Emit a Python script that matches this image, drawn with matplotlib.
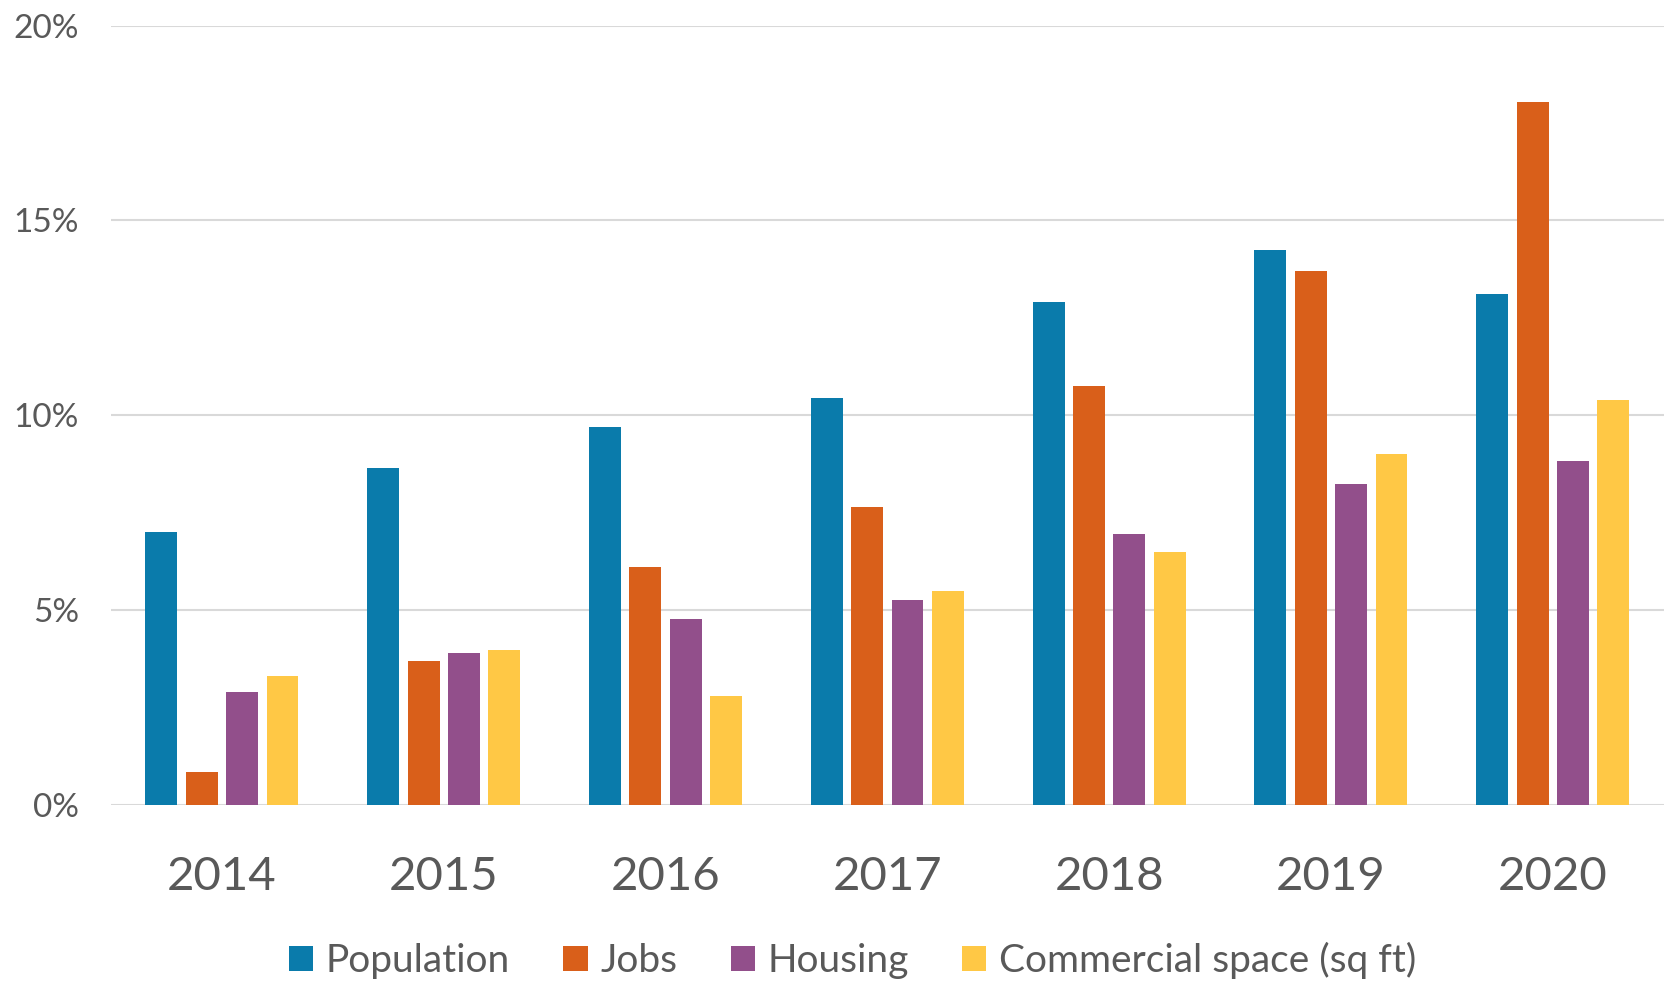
import numpy as np
import matplotlib.pyplot as plt
from matplotlib.ticker import FuncFormatter

# annual growth by category
years = ["2014", "2015", "2016", "2017", "2018", "2019", "2020"]
population = [7.0, 8.65, 9.7, 10.45, 12.9, 14.25, 13.1]
jobs = [0.85, 3.7, 6.1, 7.65, 10.75, 13.7, 18.05]
housing = [2.9, 3.9, 4.77, 5.27, 6.95, 8.25, 8.82]
commercial = [3.3, 3.98, 2.8, 5.5, 6.5, 9.0, 10.4]

series = ["Population", "Jobs", "Housing", "Commercial space (sq ft)"]
colors = ["#0A7BAB", "#D95F1A", "#924F8B", "#FFC845"]

plt.rcParams["font.family"] = ["Lato", "DejaVu Sans"]

fig = plt.figure(figsize=(16.67, 9.83), dpi=100)
ax = fig.add_axes([0.0666, 0.181, 0.9314, 0.793])

x = np.arange(len(years))
pitch = 0.182
width = 0.144
for i, (name, vals, c) in enumerate(zip(series, [population, jobs, housing, commercial], colors)):
    ax.bar(x + (i - 1.5) * pitch, vals, width, color=c, label=name, zorder=3)

ax.set_xlim(-0.5, len(years) - 0.5)
ax.set_ylim(0, 20)
ax.set_yticks([0, 5, 10, 15, 20])
ax.yaxis.set_major_formatter(FuncFormatter(lambda v, p: f"{v:.0f}%"))
ax.set_xticks(x)
ax.set_xticklabels(years)

ax.grid(axis="y", color="#D9D9D9", linewidth=1.5, zorder=0)
for s in ["top", "right", "left", "bottom"]:
    ax.spines[s].set_visible(False)

ax.tick_params(axis="x", length=0, pad=37, labelsize=34, labelcolor="#595959")
ax.tick_params(axis="y", length=0, pad=23, labelsize=24, labelcolor="#595959")

fig.legend(loc="center", bbox_to_anchor=(0.5115, 0.023), ncol=4, frameon=False,
           fontsize=28, labelcolor="#595959", handlelength=0.62, handleheight=0.62,
           handletextpad=0.33, columnspacing=1.37, borderpad=0)

fig.savefig("out.png", dpi=100)
